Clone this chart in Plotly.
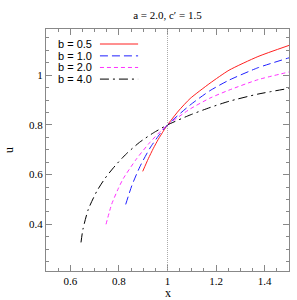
import plotly.graph_objects as go

# Data
x_b05 = [0.898, 0.921, 0.942, 0.962, 0.983, 1.0, 1.045, 1.093, 1.175, 1.253, 1.372, 1.5]
u_b05 = [0.613, 0.664, 0.706, 0.742, 0.775, 0.800, 0.856, 0.906, 0.968, 1.020, 1.075, 1.120]

x_b10 = [0.828, 0.853, 0.887, 0.928, 0.969, 1.0, 1.093, 1.175, 1.253, 1.372, 1.5]
u_b10 = [0.480, 0.555, 0.633, 0.707, 0.764, 0.800, 0.880, 0.938, 0.980, 1.030, 1.070]

x_b20 = [0.747, 0.770, 0.798, 0.818, 0.873, 0.928, 0.976, 1.0, 1.093, 1.175, 1.253, 1.372, 1.5]
u_b20 = [0.400, 0.480, 0.545, 0.584, 0.664, 0.730, 0.779, 0.800, 0.864, 0.908, 0.940, 0.982, 1.013]

x_b40 = [0.644, 0.652, 0.674, 0.709, 0.743, 0.784, 0.830, 0.885, 0.942, 1.0, 1.093, 1.175, 1.253, 1.372, 1.5]
u_b40 = [0.327, 0.380, 0.460, 0.533, 0.585, 0.635, 0.683, 0.730, 0.768, 0.800, 0.840, 0.870, 0.895, 0.924, 0.947]

labels = ["b = 0.5", "b = 1.0", "b = 2.0", "b = 4.0"]
x_ticks = [0.6, 0.8, 1.0, 1.2, 1.4]
y_ticks = [0.4, 0.6, 0.8, 1.0]
title_text = "a = 2.0, c\u2032 = 1.5"

series = [(x_b05, u_b05), (x_b10, u_b10), (x_b20, u_b20), (x_b40, u_b40)]
colors = ["#ff2020", "#2020ff", "#ff30ff", "#000000"]
dashes = ["solid", "8px,4px", "4px,3px", "9px,4px,2px,4px"]

SERIF = "Liberation Serif, Times New Roman, serif"

fig = go.Figure()
for (xs, us), lab, c, d in zip(series, labels, colors, dashes):
    fig.add_trace(go.Scatter(x=xs, y=us, mode="lines", name=lab,
                             line=dict(color=c, width=1, dash=d, shape="spline", smoothing=0.6),
                             showlegend=False))

fig.add_vline(x=1.0, line=dict(color="#aaaaaa", width=1, dash="1px,1px"))

# manual legend: text left, line sample right
leg_y = [0.938, 0.889, 0.841, 0.793]
for lab, c, d, yy in zip(labels, colors, dashes, leg_y):
    fig.add_annotation(x=0.1975, y=yy, xref="paper", yref="paper", text=lab,
                       showarrow=False, xanchor="right", yanchor="middle",
                       font=dict(family="Liberation Sans, Arial, sans-serif", size=11, color="#000"))
    fig.add_shape(type="line", xref="paper", yref="paper", x0=0.222, x1=0.379, y0=yy, y1=yy,
                  line=dict(color=c, width=1, dash=d))

fig.add_annotation(x=0.5, y=-0.092, xref="paper", yref="paper", text="x", showarrow=False,
                   xanchor="center", yanchor="middle",
                   font=dict(family=SERIF, size=12, color="#000"))
fig.add_annotation(x=-0.152, y=0.5, xref="paper", yref="paper", text="u", showarrow=False,
                   textangle=-90, xanchor="center", yanchor="middle",
                   font=dict(family=SERIF, size=12, color="#000"))

axis_common = dict(showgrid=False, zeroline=False, showline=True, linecolor="#888888", linewidth=1,
                   mirror="allticks", ticks="inside", ticklen=6, tickcolor="#888888", tickwidth=1,
                   tickfont=dict(family=SERIF, size=11, color="#000"))

fig.update_xaxes(range=[0.5, 1.5], tickvals=x_ticks, ticktext=["0.6", "0.8", "1", "1.2", "1.4"],
                 minor=dict(dtick=0.05, tick0=0.5, ticks="inside", ticklen=3, tickcolor="#888888"),
                 **axis_common)
fig.update_yaxes(range=[0.212, 1.186], tickvals=y_ticks, ticktext=["0.4", "0.6", "0.8", "1"],
                 minor=dict(dtick=0.05, tick0=0.2, ticks="inside", ticklen=3, tickcolor="#888888"),
                 **axis_common)

fig.update_layout(
    width=297, height=300,
    margin=dict(l=46, r=8, t=29, b=29),
    paper_bgcolor="white", plot_bgcolor="white",
    title=dict(text=title_text, x=0.5637, xanchor="center", y=0.95, yanchor="middle",
               font=dict(family=SERIF, size=11, color="#000")),
    showlegend=False,
)

fig.write_html("out.html", config={"displayModeBar": False},
               post_script="document.body.style.margin='0';document.body.style.padding='0';")
